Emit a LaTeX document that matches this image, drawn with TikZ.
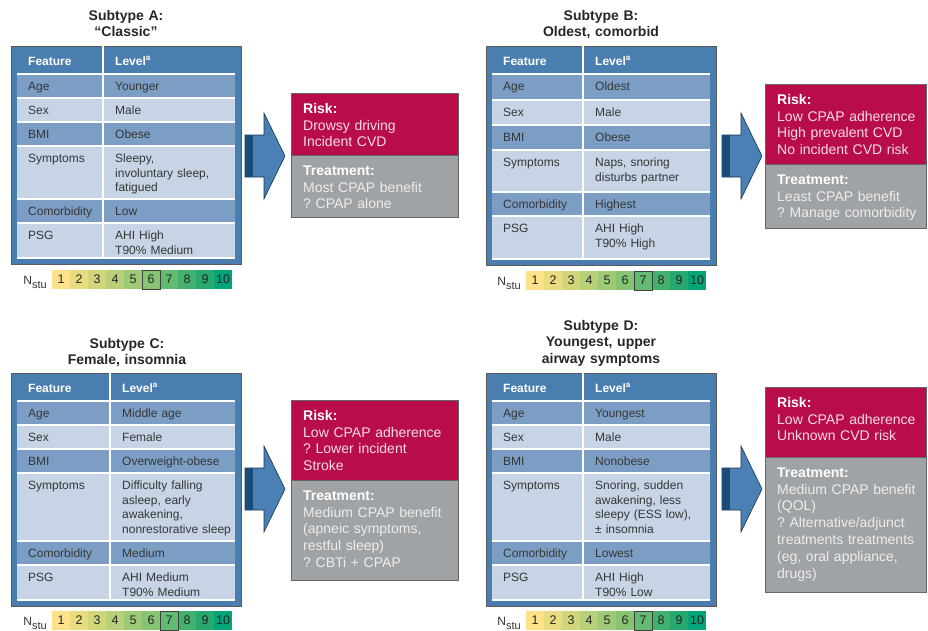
\documentclass[tikz,border=0pt]{standalone}
\usepackage{fontspec}
\setmainfont{Liberation Sans}
\usepackage{tikz}
\frenchspacing

\definecolor{tblblue}{HTML}{4A7EB0}
\definecolor{rowdark}{HTML}{7D9EC4}
\definecolor{rowlight}{HTML}{C6D4E6}
\definecolor{riskred}{HTML}{B90C4A}
\definecolor{riskfg}{HTML}{F7DCE5}
\definecolor{treatgray}{HTML}{A0A3A6}
\definecolor{treatfg}{HTML}{EDEDED}
\definecolor{arrowblue}{HTML}{4A80B4}
\definecolor{arrownavy}{HTML}{1B4B78}
\definecolor{textgray}{HTML}{363636}

\tikzset{
  tblframe/.style={fill=tblblue, draw=black!65, line width=0.8pt},
  sepline/.style={white, line width=1.5pt},
  celltext/.style={anchor=north west, inner sep=0pt, text=textgray, text width=120pt, align=left,
    font=\fontsize{12}{14.5}\selectfont, execute at begin node=\strut},
  headtext/.style={celltext, text=white, font=\bfseries\fontsize{12}{14.5}\selectfont},
  titletext/.style={anchor=north, inner sep=0pt, text width=220pt, align=center, text=black!85,
    font=\bfseries\fontsize{14}{16.5}\selectfont, execute at begin node=\strut},
  riskbox/.style={fill=riskred, draw=black!60, line width=0.6pt},
  treatbox/.style={fill=treatgray, draw=black!60, line width=0.6pt},
  boxtext/.style={anchor=north west, inner sep=0pt, text width=150pt, align=left,
    font=\fontsize{14}{16.8}\selectfont, execute at begin node=\strut},
  stulabel/.style={anchor=base east, inner sep=0pt, text=black!80, font=\fontsize{12}{12}\selectfont},
  stunum/.style={inner sep=0pt, text=black!85, font=\fontsize{12.5}{12.5}\selectfont},
  stubox/.style={draw=black!75, line width=1pt},
  bigarrow/.style={fill=arrowblue, draw=arrownavy!70!black, line width=0.6pt}
}

% name, left, divider, top, bottom, rows
\newcommand{\subtable}[6]{%
  \filldraw[tblframe] (#2,#4) rectangle (#2+230,#5);
  \foreach \ytop/\ybot/\rowcol/\feat/\lev in {#6} {
    \fill[fill=\rowcol] (#2+6,\ytop) rectangle (#2+224,\ybot);
    \draw[sepline] (#2+6,\ytop) -- (#2+224,\ytop);
    \node[celltext] (#1-\feat) at (#2+17,\ytop+6.3) {\feat};
    \node[celltext] (#1-\feat-lev) at (#3+12,\ytop+6.3) {\lev};
  }
  \draw[sepline] (#2+6,#5-6) -- (#2+224,#5-6);
  \draw[sepline] (#3,#4) -- (#3,#5-6);
  \node[headtext] (#1-head) at (#2+17,#4+8.8) {Feature};
  \node[headtext] (#1-headlev) at (#3+12,#4+8.8) {Level\textsuperscript{a}};
}

% name, left, top, highlighted cell
\newcommand{\stuscale}[4]{%
  \node[stulabel] (#1-nstu) at (#2-5,#3+14) {N\raisebox{-4pt}{\fontsize{11}{11}\selectfont stu}};
  \foreach \i/\hex in {1/FDE289,2/E8DB80,3/D1D67B,4/B7D079,5/9ECA77,6/86C474,7/63BA71,8/44B06E,9/26A86F,10/02A478} {
    \definecolor{stucol}{HTML}{\hex}
    \fill[stucol] (#2+18*\i-18,#3) rectangle (#2+18*\i,#3+19);
    \node[stunum] (#1-s\i) at (#2+18*\i-9,#3+9.5) {\i};
  }
  \draw[stubox] (#2+18*#4-18,#3) rectangle (#2+18*#4,#3+19);
}

% left end of shaft
\newcommand{\subarrow}[2]{%
  \filldraw[bigarrow] (#1,#2-21) -- (#1+19,#2-21) -- (#1+19,#2-43) -- (#1+40,#2)
    -- (#1+19,#2+43) -- (#1+19,#2+21) -- (#1,#2+21) -- cycle;
  \fill[arrownavy] (#1+0.3,#2-20.7) rectangle (#1+8,#2+20.7);
}

% name, left, right, top, middle, bottom, risk, treatment
\newcommand{\outcome}[8]{%
  \filldraw[riskbox] (#2,#4) rectangle (#3,#5);
  \filldraw[treatbox] (#2,#5) rectangle (#3,#6);
  \node[boxtext, text=riskfg] (#1-risk) at (#2+12,#4+8.3) {\textcolor{white}{\textbf{Risk:}}\\#7};
  \node[boxtext, text=treatfg] (#1-treat) at (#2+12,#5+8.3) {\textcolor{white}{\textbf{Treatment:}}\\#8};
}

\begin{document}
\begin{tikzpicture}[x=1pt, y=-1pt]
  \useasboundingbox (0,0) rectangle (928,630);

  \node[titletext] (A-title) at (126,8.5) {Subtype A:\\“Classic”};
  \subtable{A}{11}{103}{46}{264}{74/98/rowdark/Age/Younger, 98/122/rowlight/Sex/Male,
    122/146/rowdark/BMI/Obese, 146/199/rowlight/Symptoms/{Sleepy,\\involuntary sleep,\\fatigued},
    199/223/rowdark/Comorbidity/Low, 223/258/rowlight/PSG/{AHI High\\T90\% Medium}}
  \stuscale{A}{52}{270}{6}
  \subarrow{245}{156}
  \outcome{A}{291}{458}{93}{155}{217}{Drowsy driving\\Incident CVD}{Most CPAP benefit\\? CPAP alone}

  \node[titletext] (B-title) at (601,8.5) {Subtype B:\\Oldest, comorbid};
  \subtable{B}{486}{583}{46}{265}{74/100/rowdark/Age/Oldest, 100/125/rowlight/Sex/Male,
    125/150/rowdark/BMI/Obese, 150/192/rowlight/Symptoms/{Naps, snoring\\disturbs partner},
    192/216/rowdark/Comorbidity/Highest, 216/259/rowlight/PSG/{AHI High\\T90\% High}}
  \stuscale{B}{526}{271}{7}
  \subarrow{722}{156}
  \outcome{B}{765}{926.5}{84}{164}{228}{Low CPAP adherence\\High prevalent CVD\\No incident CVD risk}{Least CPAP benefit\\? Manage comorbidity}

  \node[titletext] (C-title) at (127,336.5) {Subtype C:\\Female, insomnia};
  \subtable{C}{11}{110}{373}{606}{401/425/rowdark/Age/Middle age, 425/449/rowlight/Sex/Female,
    449/473/rowdark/BMI/Overweight-obese,
    473/541/rowlight/Symptoms/{Difficulty falling\\asleep, early\\awakening,\\nonrestorative sleep},
    541/565/rowdark/Comorbidity/Medium, 565/600/rowlight/PSG/{AHI Medium\\T90\% Medium}}
  \stuscale{C}{52}{611}{7}
  \subarrow{245}{489}
  \outcome{C}{291}{458}{400}{480}{580}{Low CPAP adherence\\? Lower incident\\Stroke}{Medium CPAP benefit\\(apneic symptoms,\\restful sleep)\\? CBTi + CPAP}

  \node[titletext] (D-title) at (601,318.5) {Subtype D:\\Youngest, upper\\airway symptoms};
  \subtable{D}{486}{583}{373}{606}{401/425/rowdark/Age/Youngest, 425/449/rowlight/Sex/Male,
    449/473/rowdark/BMI/Nonobese,
    473/541/rowlight/Symptoms/{Snoring, sudden\\awakening, less\\sleepy (ESS low),\\± insomnia},
    541/565/rowdark/Comorbidity/Lowest, 565/600/rowlight/PSG/{AHI High\\T90\% Low}}
  \stuscale{D}{526}{611}{7}
  \subarrow{722}{489}
  \outcome{D}{765}{926.5}{387}{457}{592}{Low CPAP adherence\\Unknown CVD risk}{Medium CPAP benefit\\(QOL)\\? Alternative/adjunct\\treatments treatments\\(eg, oral appliance,\\drugs)}
\end{tikzpicture}
\end{document}
